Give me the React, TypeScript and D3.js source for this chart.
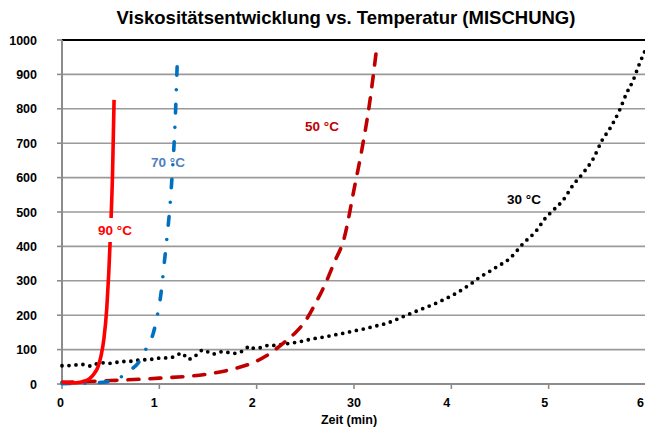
import React from 'react';
import * as d3 from 'd3';

const W = 645, H = 430;
const margin = { top: 40, left: 62, right: -1, bottom: 46 };

const xTicks = [0, 1, 2, 3, 4, 5, 6];
const xTickLabels = ['0', '1', '2', '30', '4', '5', '6'];
const xLabelDx = [-1.5, -5, -4.5, 0, -4.5, -4, -5.5];
const yTicks = [0, 100, 200, 300, 400, 500, 600, 700, 800, 900, 1000];

// 30 °C (dotted black)
const t30 = [0, 0.1, 0.2, 0.3, 0.39, 0.5, 0.6, 0.7, 0.8, 0.9, 0.98, 1.08, 1.16, 1.23, 1.3, 1.37, 1.45, 1.55, 1.65, 1.77, 1.87, 1.93, 1.96, 2.05, 2.13, 2.2, 2.27, 2.36, 2.44, 2.52, 2.61, 2.7, 2.79, 2.9, 3.01, 3.1, 3.2, 3.33, 3.44, 3.54, 3.67, 3.82, 3.92, 4.02, 4.12, 4.22, 4.29, 4.38, 4.47, 4.6, 4.74, 4.88, 4.96, 5.05, 5.15, 5.25, 5.35, 5.46, 5.55, 5.63, 5.73, 5.8, 5.87, 5.92, 5.97, 6.0];
const v30 = [53, 54, 57, 52, 62, 60, 65, 66, 70, 71, 75, 76, 80, 90, 72, 82, 99, 87, 94, 89, 98, 110, 104, 106, 113, 112, 116, 119, 123, 128, 133, 137, 142, 148, 155, 160, 167, 176, 188, 200, 215, 232, 245, 259, 276, 295, 310, 325, 341, 365, 409, 448, 480, 506, 535, 578, 612, 656, 709, 743, 797, 845, 884, 922, 956, 975];

// 50 °C (dashed dark red)
const t50 = [0, 0.5, 1.0, 1.5, 1.75, 1.97, 2.1, 2.2, 2.3, 2.4, 2.5, 2.6, 2.7, 2.8, 2.9, 3.0, 3.08, 3.16, 3.23];
const v50 = [5, 10, 17, 29, 43, 63, 82, 102, 125, 150, 183, 232, 288, 355, 425, 565, 680, 816, 970];

// 70 °C (dash-dot blue)
const t70 = [0, 0.3, 0.45, 0.55, 0.62, 0.7, 0.78, 0.87, 0.94, 0.98, 1.02, 1.05, 1.08, 1.11, 1.13, 1.15, 1.165, 1.175, 1.185];
const v70 = [1, 3, 6, 12, 23, 40, 60, 106, 150, 200, 270, 350, 430, 520, 600, 690, 780, 860, 940];

// 90 °C (solid red)
const t90 = [0, 0.1, 0.2, 0.28, 0.33, 0.37, 0.4, 0.43, 0.46, 0.48, 0.5, 0.52, 0.535];
const v90 = [5, 3, 6, 15, 30, 50, 80, 130, 220, 320, 450, 620, 826];

const series = [
  { t: t30, v: v30, color: '#000000', dash: '0 7', label: '30 °C', lx: 524, ly: 199, lc: '#000000', bg: false },
  { t: t50, v: v50, color: '#C00000', dash: '11 11', label: '50 °C', lx: 322, ly: 126, lc: '#C00000', bg: false },
  { t: t70, v: v70, color: '#0070C0', dash: '8.5 14.5 0 14.5', label: '70 °C', lx: 168, ly: 162, lc: '#4F7FC0', bg: false },
  { t: t90, v: v90, color: '#FF0000', dash: null, label: '90 °C', lx: 115, ly: 230, lc: '#FF0000', bg: true },
];

const font = 'Arial, "Liberation Sans", sans-serif';

export default function App() {
  const x = d3.scaleLinear().domain([0, 6]).range([margin.left, 646]);
  const y = d3.scaleLinear().domain([0, 1000]).range([384, margin.top]);

  const line = d3.line<[number, number]>()
    .x((d) => x(d[0]))
    .y((d) => y(d[1]))
    .curve(d3.curveMonotoneX);

  return (
    <svg width={W} height={H} style={{ position: 'absolute', left: 0, top: 0, background: '#fff' }} fontFamily={font}>
      {/* gridlines */}
      {yTicks.filter((t) => t > 0 && t < 1000).map((t) => (
        <line key={t} x1={x(0)} x2={W} y1={y(t)} y2={y(t)} stroke="#9A9A9A" strokeWidth={1.6} />
      ))}
      {/* top border */}
      <line x1={x(0)} x2={W} y1={y(1000)} y2={y(1000)} stroke="#000" strokeWidth={2} />
      {/* y axis */}
      <line x1={x(0)} x2={x(0)} y1={y(1000)} y2={y(0) + 1} stroke="#8C8C8C" strokeWidth={2} />
      {yTicks.map((t) => (
        <g key={t}>
          <line x1={x(0) - 5} x2={x(0)} y1={y(t)} y2={y(t)} stroke="#8C8C8C" strokeWidth={1.6} />
          <text x={37} y={y(t)} dy="0.36em" textAnchor="end" fontSize={12.5} fontWeight="bold" fill="#000">{t}</text>
        </g>
      ))}
      {/* x axis */}
      <line x1={x(0)} x2={W} y1={y(0)} y2={y(0)} stroke="#8C8C8C" strokeWidth={2} />
      {xTicks.map((t, i) => (
        <g key={t}>
          <line x1={x(t)} x2={x(t)} y1={y(0)} y2={y(0) + 5} stroke="#8C8C8C" strokeWidth={1.6} />
          <text x={x(t) + xLabelDx[i]} y={407} textAnchor="middle" fontSize={12.5} fontWeight="bold" fill="#000">{xTickLabels[i]}</text>
        </g>
      ))}
      <text x={349} y={424} textAnchor="middle" fontSize={12.5} fontWeight="bold" fill="#000">Zeit (min)</text>
      {/* title */}
      <text x={346} y={23.5} textAnchor="middle" fontSize={18.5} fontWeight="bold" fill="#000">Viskositätsentwicklung vs. Temperatur (MISCHUNG)</text>
      {/* curves */}
      {series.map((s) => (
        <path
          key={s.label}
          d={line(s.t.map((t, i) => [t, s.v[i]] as [number, number])) || ''}
          fill="none"
          stroke={s.color}
          strokeWidth={s.dash === '0 7' ? 3.8 : 3.6}
          strokeDasharray={s.dash || undefined}
          strokeLinecap={s.dash ? 'round' : 'butt'}
        />
      ))}
      {series.map((s) => (
        <g key={s.label + 'l'}>
          {s.bg && <rect x={s.lx - 18} y={s.ly - 12} width={36} height={24} fill="#fff" />}
          <text x={s.lx} y={s.ly} dy="0.36em" textAnchor="middle" fontSize={13.5} fontWeight="bold" fill={s.lc}>{s.label}</text>
        </g>
      ))}
    </svg>
  );
}
